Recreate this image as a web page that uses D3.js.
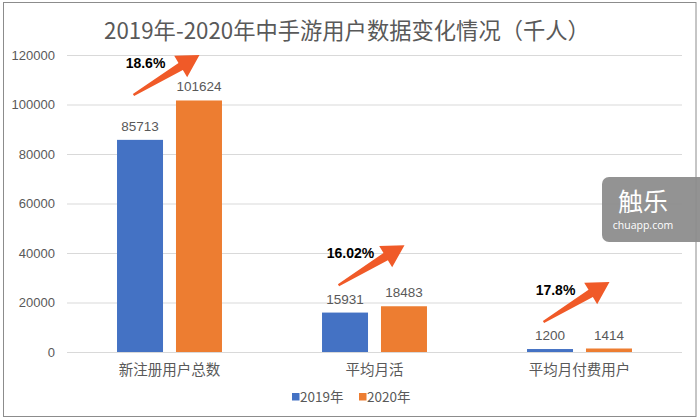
<!DOCTYPE html>
<html><head><meta charset="utf-8">
<script src="https://cdn.jsdelivr.net/npm/d3@7"></script>
<style>body{margin:0;background:#fff}svg{display:block}</style>
</head><body>
<script>
const title = "2019年-2020年中手游用户数据变化情况（千人）";
const categories = ["新注册用户总数", "平均月活", "平均月付费用户"];
const seriesNames = ["2019年", "2020年"];
const values2019 = [85713, 15931, 1200];
const values2020 = [101624, 18483, 1414];
const yTicks = [0, 20000, 40000, 60000, 80000, 100000, 120000];
const growthLabels = ["18.6%", "16.02%", "17.8%"];
const arrowFromValues = [103800, 27000, 12100];

const W = 700, H = 420;
const colors = ["#4472C4", "#ED7D31"];
const arrowColor = "#F05A28";
const textGray = "#595959";

const svg = d3.select("body").append("svg").attr("width", W).attr("height", H);
svg.append("rect").attr("width", W).attr("height", H).attr("fill", "#fff");

const plot = {left: 67, right: 682, top: 55, bottom: 352};
const y = d3.scaleLinear().domain([0, 120000]).range([plot.bottom, plot.top]);
const x0 = d3.scaleBand().domain(categories).range([plot.left, plot.right])
  .paddingInner(0.488).paddingOuter(0.244);
const x1 = d3.scaleBand().domain(seriesNames).range([0, x0.bandwidth()])
  .paddingInner(0.22).paddingOuter(0);

// title
svg.append("text").attr("x", 347).attr("y", 39).attr("text-anchor", "middle")
  .attr("font-family", "'Noto Sans CJK SC', sans-serif").attr("font-size", 22.3)
  .attr("fill", textGray).text(title);

// gridlines + y axis labels
const yAxis = d3.axisLeft(y).tickValues(yTicks).tickSize(-(plot.right - plot.left))
  .tickPadding(12).tickFormat(d3.format("d"));
const gy = svg.append("g").attr("transform", `translate(${plot.left},0)`).call(yAxis);
gy.select(".domain").remove();
gy.selectAll(".tick line").attr("stroke", "#D9D9D9").attr("stroke-width", 1);
gy.selectAll(".tick text").attr("fill", textGray).attr("font-size", 13)
  .attr("font-family", "'Liberation Sans', Arial, sans-serif");

// x axis category labels
const xAxis = d3.axisBottom(x0).tickSize(0).tickPadding(13);
const gx = svg.append("g").attr("transform", `translate(0,${plot.bottom})`).call(xAxis);
gx.select(".domain").remove();
gx.selectAll(".tick text").attr("fill", textGray).attr("font-size", 14.5)
  .attr("font-family", "'Noto Sans CJK SC', sans-serif");

// bars
const rows = categories.map((c, i) => ({cat: c, vals: [values2019[i], values2020[i]]}));
const groups = svg.append("g").selectAll("g").data(rows).join("g")
  .attr("transform", d => `translate(${x0(d.cat)},0)`);
groups.selectAll("rect").data(d => d.vals.map((v, j) => ({s: seriesNames[j], v, j})))
  .join("rect")
  .attr("x", d => x1(d.s)).attr("width", x1.bandwidth())
  .attr("y", d => y(d.v)).attr("height", d => y(0) - y(d.v))
  .attr("fill", d => colors[d.j]);
groups.selectAll("text.val").data(d => d.vals.map((v, j) => ({s: seriesNames[j], v, j})))
  .join("text").attr("class", "val")
  .attr("x", d => x1(d.s) + x1.bandwidth() / 2).attr("y", d => y(d.v) - 9)
  .attr("text-anchor", "middle").attr("font-size", 13.5)
  .attr("font-family", "'Liberation Sans', Arial, sans-serif")
  .attr("fill", textGray).text(d => d.v);

// growth arrows
function arrowPath(x1p, y1p, x2p, y2p) {
  const dx = x2p - x1p, dy = y2p - y1p, L = Math.hypot(dx, dy);
  const ux = dx / L, uy = dy / L, nx = -uy, ny = ux;
  const headLen = 22, headW = 12.5, tailW = 1.2, shaftW = 4.2;
  const bx = x2p - ux * headLen, by = y2p - uy * headLen;
  const pts = [
    [x1p + nx * tailW, y1p + ny * tailW],
    [bx + nx * shaftW, by + ny * shaftW],
    [bx + nx * headW, by + ny * headW],
    [x2p, y2p],
    [bx - nx * headW, by - ny * headW],
    [bx - nx * shaftW, by - ny * shaftW],
    [x1p - nx * tailW, y1p - ny * tailW]
  ];
  return "M" + pts.map(p => p.join(",")).join("L") + "Z";
}
const ann = svg.append("g");
categories.forEach((c, i) => {
  const cx = x0(c) + x0.bandwidth() / 2;
  const tx = cx - 36, ty = y(arrowFromValues[i]);
  const hx = tx + 66, hy = ty - 40;
  ann.append("path").attr("d", arrowPath(tx, ty, hx, hy)).attr("fill", arrowColor);
  ann.append("text").attr("x", cx - 24).attr("y", ty - 27).attr("text-anchor", "middle")
    .attr("font-family", "'Liberation Sans', Arial, sans-serif").attr("font-weight", "bold")
    .attr("font-size", 14).attr("fill", "#000").text(growthLabels[i]);
});

// legend
const legend = svg.append("g").attr("transform", "translate(292,402)");
const legX = [0, 67];
seriesNames.forEach((s, i) => {
  const g = legend.append("g").attr("transform", `translate(${legX[i]},0)`);
  g.append("rect").attr("x", 0).attr("y", -9).attr("width", 7.5).attr("height", 7.5).attr("fill", colors[i]);
  g.append("text").attr("x", 8).attr("y", 0).attr("font-size", 13.5)
    .attr("font-family", "'Noto Sans CJK SC', sans-serif").attr("fill", textGray).text(s);
});

// watermark
const wm = svg.append("g");
wm.append("rect").attr("x", 602).attr("y", 177).attr("width", 110).attr("height", 65)
  .attr("rx", 7).attr("fill", "#8a8a8a").attr("opacity", 0.92);
wm.append("text").attr("x", 643).attr("y", 211).attr("text-anchor", "middle")
  .attr("font-family", "'Noto Sans CJK SC', sans-serif").attr("font-size", 25)
  .attr("fill", "#fff").text("触乐");
wm.append("text").attr("x", 643).attr("y", 229).attr("text-anchor", "middle")
  .attr("font-family", "'Open Sans', sans-serif").attr("font-size", 10.5)
  .attr("fill", "#fff").text("chuapp.com");

// frame
svg.append("rect").attr("x", 3.5).attr("y", 2.5).attr("width", 692.5).attr("height", 414)
  .attr("fill", "none").attr("stroke", "#8c8c8c").attr("stroke-width", 1);
</script>
</body></html>
